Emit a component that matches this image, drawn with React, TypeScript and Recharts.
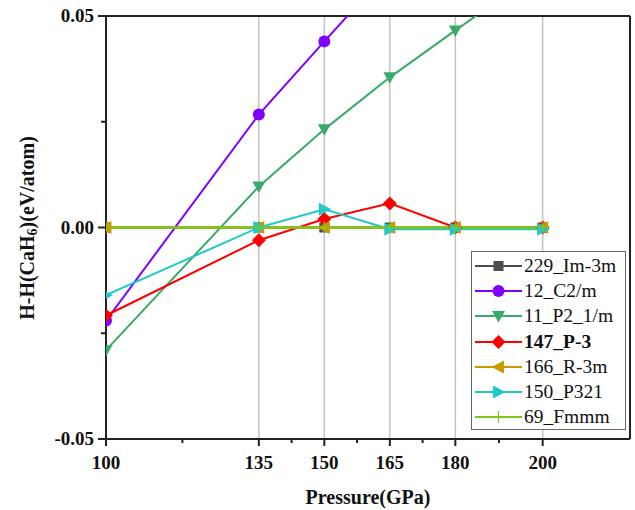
import React from 'react';
import { LineChart, Line, XAxis, YAxis, ReferenceLine, Legend } from 'recharts';

const pressures = [100, 135, 150, 165, 180, 200];
const s229 = [0, 0, 0, 0, 0, 0];
const s12 = [-0.022, 0.0267, 0.044, 0.061, null, null];
const s11 = [-0.029, 0.0097, 0.0232, 0.0355, 0.0466, 0.061];
const s147 = [-0.0208, -0.003, 0.002, 0.0057, 0, 0];
const s166 = [0, 0, 0, 0, 0, 0];
const s150 = [-0.016, 0, 0.0043, -0.0004, -0.0004, -0.0004];
const s69 = [0, 0, 0, 0, 0, 0];

const xMajor = [100, 135, 150, 165, 180, 200];
const xTicks = [100, 117.5, 135, 142.5, 150, 157.5, 165, 172.5, 180, 190, 200];
const yMajor = [-0.05, 0, 0.05];
const yTicks = [-0.05, -0.025, 0, 0.025, 0.05];
const yLabels: Record<string, string> = { '-0.05': '-0.05', '0': '0.00', '0.05': '0.05' };

const series = [
  { key: 's229', name: '229_Im-3m', color: '#4d4d4d', shape: 'square', values: s229, bold: false },
  { key: 's12', name: '12_C2/m', color: '#8000ff', shape: 'circle', values: s12, bold: false },
  { key: 's11', name: '11_P2_1/m', color: '#3aaa6a', shape: 'down', values: s11, bold: false },
  { key: 's147', name: '147_P-3', color: '#ff0000', shape: 'diamond', values: s147, bold: true },
  { key: 's166', name: '166_R-3m', color: '#cc9900', shape: 'left', values: s166, bold: false },
  { key: 's150', name: '150_P321', color: '#20c8c8', shape: 'right', values: s150, bold: false },
  { key: 's69', name: '69_Fmmm', color: '#7dc71a', shape: 'plus', values: s69, bold: false },
];

const data = pressures.map((p, i) => {
  const row: Record<string, number | null> = { p };
  series.forEach((s) => {
    row[s.key] = s.values[i] as number | null;
  });
  return row;
});

const FONT = '"Liberation Serif", "Times New Roman", serif';

function MarkerShape({ shape, cx, cy, color }: { shape: string; cx: number; cy: number; color: string }) {
  switch (shape) {
    case 'square':
      return <rect x={cx - 5} y={cy - 5} width={10} height={10} fill={color} />;
    case 'circle':
      return <circle cx={cx} cy={cy} r={6} fill={color} />;
    case 'down':
      return <polygon points={`${cx - 6.5},${cy - 5} ${cx + 6.5},${cy - 5} ${cx},${cy + 6.5}`} fill={color} />;
    case 'diamond':
      return <polygon points={`${cx},${cy - 7} ${cx + 7},${cy} ${cx},${cy + 7} ${cx - 7},${cy}`} fill={color} />;
    case 'left':
      return <polygon points={`${cx - 7},${cy} ${cx + 5.5},${cy - 6.5} ${cx + 5.5},${cy + 6.5}`} fill={color} />;
    case 'right':
      return <polygon points={`${cx + 7},${cy} ${cx - 5.5},${cy - 6.5} ${cx - 5.5},${cy + 6.5}`} fill={color} />;
    case 'plus':
      return (
        <g stroke={color} strokeWidth={1.2}>
          <line x1={cx - 6} x2={cx + 6} y1={cy} y2={cy} />
          <line x1={cx} x2={cx} y1={cy - 6} y2={cy + 6} />
        </g>
      );
    default:
      return null;
  }
}

const makeDot = (shape: string, color: string) => (props: any) => {
  const { cx, cy, key, index } = props;
  if (cx == null || cy == null || isNaN(cy)) return <g key={key ?? index} />;
  return (
    <g key={key ?? `${shape}-${index}`}>
      <MarkerShape shape={shape} cx={cx} cy={cy} color={color} />
    </g>
  );
};

const XTick = (props: any) => {
  const { x, y, payload } = props;
  const major = xMajor.includes(payload.value);
  return (
    <g>
      <line x1={x} x2={x} y1={y} y2={y + (major ? 7 : 4)} stroke="#222" strokeWidth={2} />
      {major && (
        <text x={x} y={y + 30} textAnchor="middle" fontFamily={FONT} fontWeight="bold" fontSize={19} fill="#111">
          {payload.value}
        </text>
      )}
    </g>
  );
};

const YTick = (props: any) => {
  const { x, y, payload } = props;
  const major = yMajor.some((v) => Math.abs(v - payload.value) < 1e-9);
  const label = yLabels[String(payload.value)];
  return (
    <g>
      <line x1={x} x2={x - (major ? 8 : 5)} y1={y} y2={y} stroke="#222" strokeWidth={2} />
      {major && (
        <text x={x - 12} y={y + 6} textAnchor="end" fontFamily={FONT} fontWeight="bold" fontSize={19} fill="#111">
          {label}
        </text>
      )}
    </g>
  );
};

const LegendBox = () => (
  <div
    style={{
      width: 155,
      height: 179,
      border: '1px solid #666',
      background: '#fff',
      boxSizing: 'border-box',
      paddingTop: 1,
    }}
  >
    {series.map((s) => (
      <div key={s.key} style={{ height: 25.3, display: 'flex', alignItems: 'center' }}>
        <svg width={52} height={20} style={{ flex: 'none' }}>
          <line x1={3} x2={50} y1={10} y2={10} stroke={s.color} strokeWidth={2} />
          <MarkerShape shape={s.shape} cx={26.5} cy={10} color={s.color} />
        </svg>
        <span
          style={{
            fontFamily: FONT,
            fontSize: 19.5,
            fontWeight: s.bold ? 'bold' : 'normal',
            color: '#111',
            lineHeight: '20px',
            whiteSpace: 'nowrap',
          }}
        >
          {s.name}
        </span>
      </div>
    ))}
  </div>
);

const YLabel = () => (
  <text
    transform="translate(27, 228) rotate(-90)"
    textAnchor="middle"
    fontFamily={FONT}
    fontWeight="bold"
    fontSize={20}
    fill="#111"
    dominantBaseline="central"
  >
    H-H(CaH<tspan fontSize={14} dy={5}>6</tspan>
    <tspan dy={-5}>)(eV/atom)</tspan>
  </text>
);

export default function App() {
  return (
    <div style={{ position: 'absolute', left: 0, top: 0, width: 635, height: 510, background: '#fff' }}>
      <LineChart width={635} height={510} data={data} margin={{ top: 16, right: 5, left: 0, bottom: 0 }}>
        <XAxis
          dataKey="p"
          type="number"
          domain={[100, 220]}
          allowDataOverflow
          ticks={xTicks}
          interval={0}
          tick={<XTick />}
          tickLine={false}
          tickSize={0}
          tickMargin={0}
          height={71}
          axisLine={{ stroke: '#222', strokeWidth: 2 }}
          label={{
            value: 'Pressure(GPa)',
            position: 'insideBottom',
            offset: 6,
            style: { fontFamily: FONT, fontWeight: 'bold', fontSize: 20, fill: '#111' },
          }}
        />
        <YAxis
          type="number"
          domain={[-0.05, 0.05]}
          allowDataOverflow
          ticks={yTicks}
          interval={0}
          tick={<YTick />}
          tickLine={false}
          tickSize={0}
          tickMargin={0}
          width={106}
          axisLine={{ stroke: '#222', strokeWidth: 2 }}
          label={{ content: () => <YLabel /> }}
        />
        {[135, 150, 165, 180, 200].map((v) => (
          <ReferenceLine key={v} x={v} stroke="#c4c4c4" strokeWidth={1.5} />
        ))}
        <ReferenceLine y={0.05} stroke="#222" strokeWidth={2} />
        <ReferenceLine x={220} stroke="#222" strokeWidth={2} />
        {series.map((s) => (
          <Line
            key={s.key}
            dataKey={s.key}
            name={s.name}
            stroke={s.color}
            strokeWidth={s.shape === 'plus' ? 2.4 : 2}
            dot={makeDot(s.shape, s.color)}
            activeDot={false}
            isAnimationActive={false}
            type="linear"
          />
        ))}
        <Legend
          layout="vertical"
          align="center"
          verticalAlign="middle"
          content={() => <LegendBox />}
          wrapperStyle={{ position: 'absolute', left: 471, top: 251, width: 155, height: 180 }}
        />
      </LineChart>
    </div>
  );
}
